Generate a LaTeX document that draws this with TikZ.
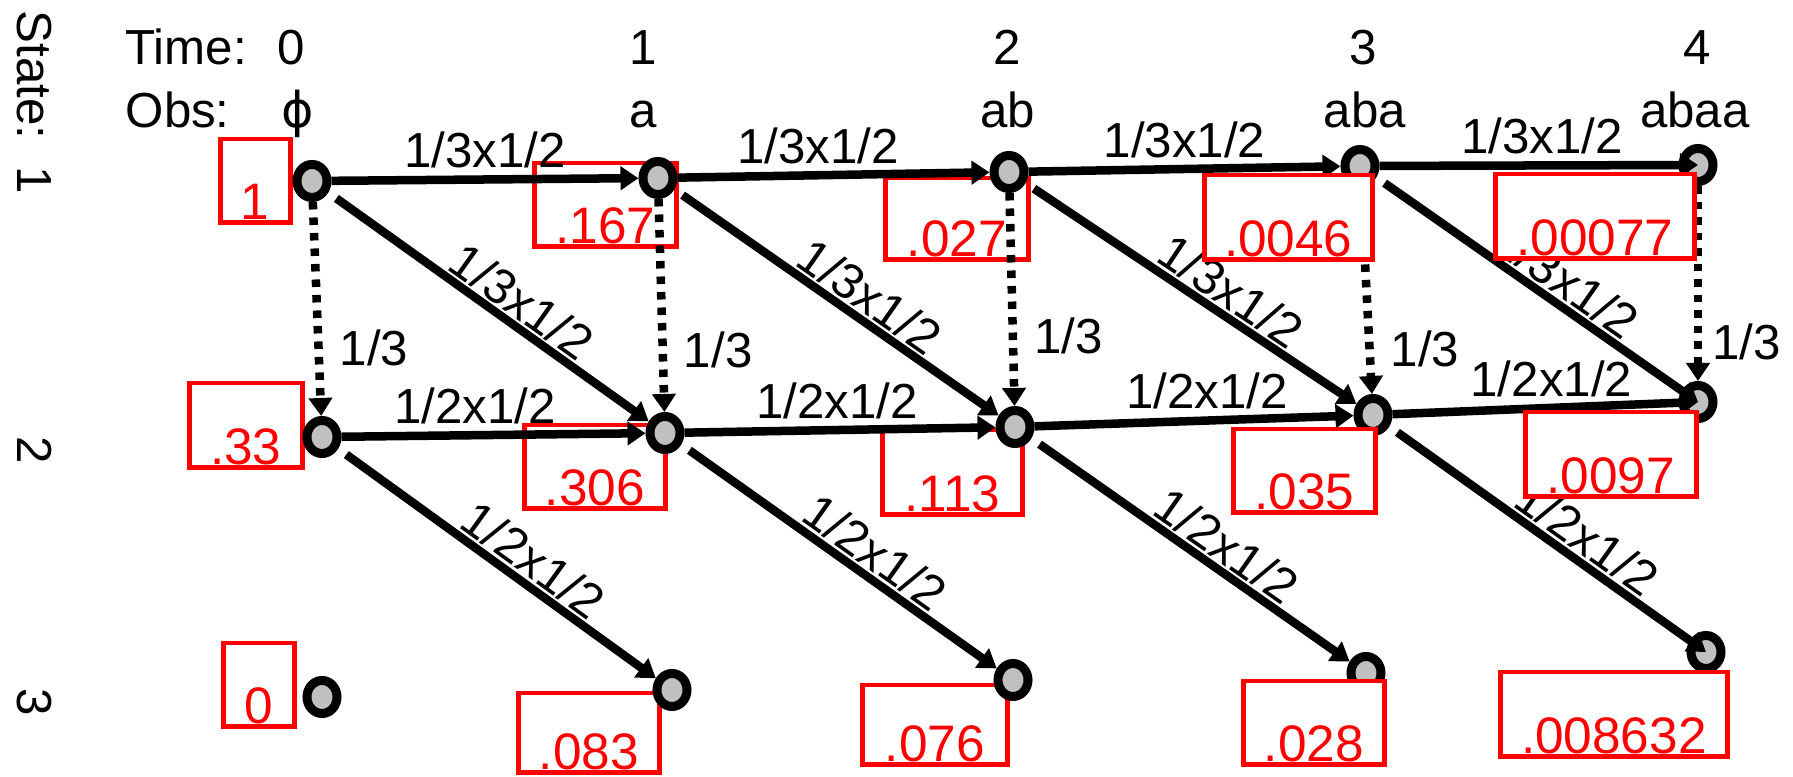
\documentclass[tikz,border=0pt]{standalone}
\usepackage{fontspec}
\setmainfont{Liberation Sans}
\newfontfamily\dejavu{DejaVu Sans}
\usetikzlibrary{arrows.meta,shapes.geometric,backgrounds}
\definecolor{nodegray}{HTML}{C0C0C0}
\begin{document}
\begin{tikzpicture}[x=0.01cm,y=-0.01cm,
  every node/.style={font=\fontsize{14}{16}\selectfont},
  st/.style={ellipse, draw=black, fill=nodegray, line width=0.09cm, minimum width=0.30cm, minimum height=0.33cm, inner sep=0pt},
  conn/.style={line width=0.085cm, -{Triangle[length=0.18cm,width=0.23cm]}},
  dotconn/.style={conn, dash pattern=on 0.075cm off 0.08cm},
  diag/.style={conn, shorten <=0.1cm},
  lab/.style={inner sep=0.07cm, text=black},
  dlab/.style={inner sep=0.02cm, text=black, sloped, above},
  rbox/.style={draw=red, fill=white, line width=0.045cm, inner sep=0pt, anchor=north west},
  rtxt/.style={text=red, inner sep=0pt, anchor=base, yshift=0.05cm, font=\fontsize{14.6}{16}\selectfont},
  hdr/.style={inner sep=0pt, anchor=base},
]
\useasboundingbox (0,0) rectangle (1793,777);

% state nodes
\node[st] (n10) at (312,181) {};
\node[st] (n11) at (658,178) {};
\node[st] (n12) at (1009,172) {};
\node[st] (n13) at (1360,166) {};
\node[st] (n14) at (1698,165) {};
\node[st] (n20) at (322,437) {};
\node[st] (n21) at (665,433) {};
\node[st] (n22) at (1015,427) {};
\node[st] (n23) at (1373,415) {};
\node[st] (n24) at (1698,402) {};
\node[st] (n30) at (322,697) {};
\node[st] (n31) at (672,690) {};
\node[st] (n32) at (1013,680) {};
\node[st] (n33) at (1366,673) {};
\node[st] (n34) at (1706,652) {};

\begin{pgfonlayer}{background}
% boxes beneath
\node[rbox, minimum width=0.70cm, minimum height=0.83cm] (b10) at (218,137) {};
\node[rtxt] (v10) at (b10.south) {1};
\node[rbox, minimum width=1.42cm, minimum height=0.83cm] (b11) at (532,161) {};
\node[rtxt] (v11) at (b11.south) {.167};
\node[rbox, minimum width=1.43cm, minimum height=0.81cm] (b12) at (883,176) {};
\node[rtxt] (v12) at (b12.south) {.027};
\node[rbox, minimum width=1.13cm, minimum height=0.84cm] (b20) at (187,381) {};
\node[rtxt] (v20) at (b20.south) {.33};
\node[rbox, minimum width=1.41cm, minimum height=0.83cm] (b21) at (522,423) {};
\node[rtxt] (v21) at (b21.south) {.306};
\node[rbox, minimum width=1.40cm, minimum height=0.84cm] (b22) at (880,428) {};
\node[rtxt] (v22) at (b22.south) {.113};
\node[rbox, minimum width=0.71cm, minimum height=0.83cm] (b30) at (221,641) {};
\node[rtxt] (v30) at (b30.south) {0};
\node[rbox, minimum width=1.41cm, minimum height=0.79cm] (b31) at (516,691) {};
\node[rtxt] (v31) at (b31.south) {.083};
\node[rbox, minimum width=1.45cm, minimum height=0.79cm] (b32) at (860,683) {};
\node[rtxt] (v32) at (b32.south) {.076};

% row 1 horizontal
\draw[conn] (n10) -- node[lab, above, pos=0.5] {1/3x1/2} (n11);
\draw[conn] (n11) -- node[lab, above, pos=0.45] {1/3x1/2} (n12);
\draw[conn] (n12) -- node[lab, above, pos=0.5] {1/3x1/2} (n13);
% row 2 horizontal
\draw[conn] (n20) -- node[lab, above, pos=0.44] {1/2x1/2} (n21);
\draw[conn] (n21) -- node[lab, above, pos=0.49] {1/2x1/2} (n22);
\draw[conn] (n22) -- node[lab, above, pos=0.54] {1/2x1/2} (n23);
% vertical dotted
\draw[dotconn] (n10) -- node[lab, right=0.1cm, pos=0.68] {1/3} (n20);
\draw[dotconn] (n11) -- node[lab, right=0.1cm, pos=0.71] {1/3} (n21);
\draw[dotconn] (n12) -- node[lab, right=0.1cm, pos=0.67] {1/3} (n22);
\draw[dotconn] (n13) -- node[lab, right=0.1cm, pos=0.78] {1/3} (n23);
\draw[dotconn] (n14) -- node[lab, right=0.03cm, pos=0.80] {1/3} (n24);
% diagonals 1 -> 2
\draw[diag] (n10) -- node[dlab, pos=0.56] {1/3x1/2} (n21);
\draw[diag] (n11) -- node[dlab, pos=0.56] {1/3x1/2} (n22);
\draw[diag] (n12) -- node[dlab, pos=0.58] {1/3x1/2} (n23);
% diagonals 2 -> 3
\draw[diag] (n20) -- node[dlab, pos=0.57] {1/2x1/2} (n31);
\draw[diag] (n21) -- node[dlab, pos=0.57] {1/2x1/2} (n32);
\draw[diag] (n22) -- node[dlab, pos=0.57] {1/2x1/2} (n33);
\end{pgfonlayer}

% arrows into the last column, drawn over the nodes
\draw[conn] (n13) -- node[lab, above, pos=0.51] {1/3x1/2} (n14.center);
\draw[conn] (n23) -- node[lab, above, pos=0.52] {1/2x1/2} (n24.center);
\draw[diag] (n13) -- node[dlab, pos=0.55] {1/3x1/2} (n24.center);
\draw[diag] (n23) -- node[dlab, pos=0.58] {1/2x1/2} (n34.center);

% boxes on top
\node[rbox, minimum width=1.68cm, minimum height=0.84cm] (b13) at (1202,173) {};
\node[rtxt] (v13) at (b13.south) {.0046};
\node[rbox, minimum width=1.99cm, minimum height=0.84cm] (b14) at (1493,172) {};
\node[rtxt] (v14) at (b14.south) {.00077};
\node[rbox, minimum width=1.42cm, minimum height=0.83cm] (b23) at (1231,427) {};
\node[rtxt] (v23) at (b23.south) {.035};
\node[rbox, minimum width=1.71cm, minimum height=0.84cm] (b24) at (1523,410) {};
\node[rtxt] (v24) at (b24.south) {.0097};
\node[rbox, minimum width=1.41cm, minimum height=0.83cm] (b33) at (1241,679) {};
\node[rtxt] (v33) at (b33.south) {.028};
\node[rbox, minimum width=2.27cm, minimum height=0.84cm] (b34) at (1498,670) {};
\node[rtxt] (v34) at (b34.south) {.008632};

% headers
\node[hdr, anchor=base west] (timelbl) at (125,65) {Time:};
\node[hdr] (tm0) at (291,65) {0};
\node[hdr] (tm1) at (643,65) {1};
\node[hdr] (tm2) at (1007,65) {2};
\node[hdr] (tm3) at (1363,65) {3};
\node[hdr] (tm4) at (1697,65) {4};
\node[hdr, anchor=base west] (obslbl) at (125,128) {Obs:};
\node[hdr] (ob0) at (298,128) {\dejavu ϕ};
\node[hdr] (ob1) at (643,128) {a};
\node[hdr] (ob2) at (1008,128) {ab};
\node[hdr] (ob3) at (1365,128) {aba};
\node[hdr] (ob4) at (1695,128) {abaa};

% state labels
\node[hdr, rotate=-90, anchor=base west] (state1) at (18,10) {State:\ \ 1};
\node[hdr, rotate=-90] (state2) at (18,450) {2};
\node[hdr, rotate=-90] (state3) at (18,702) {3};
\end{tikzpicture}
\end{document}
